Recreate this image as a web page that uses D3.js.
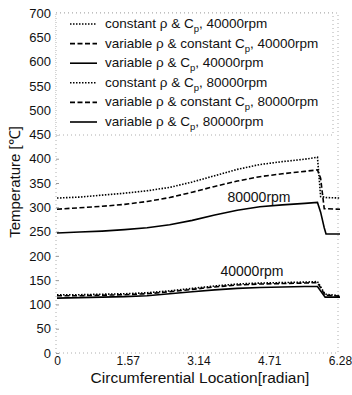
<!DOCTYPE html>
<html>
<head>
<meta charset="utf-8">
<script src="https://cdn.jsdelivr.net/npm/d3@7"></script>
<style>
  body { margin: 0; background: #fff; }
  text { font-family: "Liberation Sans", Arial, sans-serif; fill: #111; }
</style>
</head>
<body>
<div id="chart"></div>
<script>
// circumferential location [radian]
const xs40 = [0, 0.5, 1.0, 1.5, 2.0, 2.5, 3.0, 3.5, 4.0, 4.5, 5.0, 5.5, 5.78, 5.95, 6.28];
const constRho40 = [120, 120, 121, 122, 124, 128, 133, 138, 142, 144, 145, 146, 147, 121, 118];
const varRho40 = [118, 118, 119, 120, 122, 126, 131, 136, 140, 142, 143, 144, 145, 119, 117];
const varBoth40 = [113, 114, 115, 116, 118, 122, 126, 130, 133, 135, 136, 137, 137, 115, 115];

const xs80 = [0, 0.5, 1.0, 1.5, 2.0, 2.5, 3.0, 3.5, 4.0, 4.5, 5.0, 5.5, 5.78, 5.85, 5.93, 5.97, 6.28];
const constRho80 = [319, 321, 325, 329, 334, 341, 352, 365, 378, 388, 394, 399, 403, 322, 321, 320, 319];
const varRho80 = [296, 299, 302, 306, 312, 320, 331, 343, 354, 363, 369, 374, 377, 360, 297, 297, 296];
const varBoth80 = [247, 249, 251, 254, 258, 264, 273, 284, 294, 301, 305, 308, 310, 290, 258, 245, 245];

const xTicks = [0, 1.57, 3.14, 4.71, 6.28];
const yTicks = d3.range(0, 701, 50);

const legendNames = [
  ['constant \u03c1 & C', ', 40000rpm'],
  ['variable \u03c1 & constant C', ', 40000rpm'],
  ['variable \u03c1 & C', ', 40000rpm'],
  ['constant \u03c1 & C', ', 80000rpm'],
  ['variable \u03c1 & constant C', ', 80000rpm'],
  ['variable \u03c1 & C', ', 80000rpm']
];

const dashes = { dot: '1.5,1.5', dash: '5,2.5', solid: null };
const series = [
  { xs: xs40, ys: constRho40, style: 'dot' },
  { xs: xs40, ys: varRho40, style: 'dash' },
  { xs: xs40, ys: varBoth40, style: 'solid' },
  { xs: xs80, ys: constRho80, style: 'dot' },
  { xs: xs80, ys: varRho80, style: 'dash' },
  { xs: xs80, ys: varBoth80, style: 'solid' }
];

const W = 352, H = 395;
const margin = { top: 13, right: 12, bottom: 42, left: 57 };

const svg = d3.select('#chart').append('svg')
  .attr('width', W)
  .attr('height', H);

const x = d3.scaleLinear().domain([0, 6.28]).range([margin.left, W - margin.right]);
const y = d3.scaleLinear().domain([0, 700]).range([H - margin.bottom, margin.top]);

// faint dotted frame, like the scanned original
svg.append('rect')
  .attr('x', x(0) - 1)
  .attr('y', y(700))
  .attr('width', x(6.28) - x(0) - 1)
  .attr('height', y(0) - y(700))
  .attr('fill', 'none')
  .attr('stroke', '#999')
  .attr('stroke-width', 0.8)
  .attr('stroke-dasharray', '1,3');

// y axis
const yAxis = svg.append('g')
  .attr('transform', `translate(${x(0) - 1},0)`)
  .call(d3.axisLeft(y).tickValues(yTicks).tickSize(-3).tickPadding(5));
yAxis.select('.domain').remove();
yAxis.selectAll('line').attr('stroke', '#999');
yAxis.selectAll('text')
  .style('font-family', '"Liberation Sans", Arial, sans-serif')
  .style('font-size', '13px')
  .attr('fill', '#111');

// x axis
const xAxis = svg.append('g')
  .attr('transform', `translate(0,${y(0)})`)
  .call(d3.axisBottom(x).tickValues(xTicks).tickFormat(d => d === 0 ? '0' : d3.format('.2f')(d)).tickSize(0).tickPadding(3));
xAxis.select('.domain').remove();
xAxis.selectAll('text')
  .style('font-family', '"Liberation Sans", Arial, sans-serif')
  .style('font-size', '12px')
  .attr('fill', '#111');

// axis titles
svg.append('text')
  .attr('x', 200)
  .attr('y', 383)
  .attr('text-anchor', 'middle')
  .style('font-size', '15.5px')
  .text('Circumferential Location[radian]');

svg.append('text')
  .attr('transform', `translate(20,182) rotate(-90)`)
  .attr('text-anchor', 'middle')
  .style('font-size', '15px')
  .text('Temperature [\u2103]');

// curves
const line = d3.line().x(d => x(d[0])).y(d => y(d[1]));
series.forEach(s => {
  svg.append('path')
    .datum(s.xs.map((v, i) => [v, s.ys[i]]))
    .attr('d', line)
    .attr('fill', 'none')
    .attr('stroke', '#000')
    .attr('stroke-width', 1.6)
    .attr('stroke-dasharray', dashes[s.style]);
});

// curve group labels
svg.append('text').attr('x', 259).attr('y', 202).attr('text-anchor', 'middle')
  .style('font-size', '14px').text('80000rpm');
svg.append('text').attr('x', 252).attr('y', 276).attr('text-anchor', 'middle')
  .style('font-size', '14px').text('40000rpm');

// legend
const legend = svg.append('g');
legend.append('rect')
  .attr('x', x(0) - 1)
  .attr('y', y(700))
  .attr('width', 277)
  .attr('height', 122)
  .attr('fill', '#fff')
  .attr('stroke', '#999')
  .attr('stroke-width', 0.8)
  .attr('stroke-dasharray', '1,3');

legendNames.forEach((n, i) => {
  const ly = 24 + i * 19.6;
  legend.append('line')
    .attr('x1', 70).attr('x2', 97)
    .attr('y1', ly).attr('y2', ly)
    .attr('stroke', '#000')
    .attr('stroke-width', 1.6)
    .attr('stroke-dasharray', dashes[series[i].style]);
  const t = legend.append('text')
    .attr('x', 105)
    .attr('y', ly + 4)
    .style('font-size', '13.5px');
  t.append('tspan').text(n[0]);
  t.append('tspan').attr('dy', 4).style('font-size', '9.5px').text('p');
  t.append('tspan').attr('dy', -4).text(n[1]);
});
</script>
</body>
</html>
